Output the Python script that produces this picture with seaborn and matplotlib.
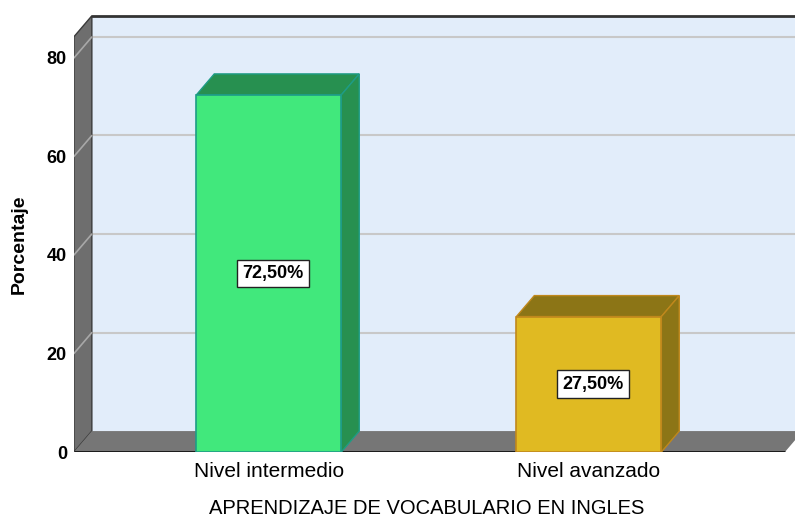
import matplotlib.pyplot as plt
import matplotlib.patches as mpatches
import seaborn as sns

# Chart data
categories = ['Nivel intermedio', 'Nivel avanzado']
percentages = [72.5, 27.5]
value_labels = ['72,50%', '27,50%']
y_ticks = [0, 20, 40, 60, 80]

# Colours (front face, shaded top/side, outline)
face_colors = ['#41E87C', '#E0BA22']
shade_colors = ['#279050', '#8C7516']
edge_colors = ['#1E9C86', '#C0881C']

sns.set_theme(style='white')
plt.rcParams['font.family'] = ['Liberation Sans', 'DejaVu Sans']
plt.rcParams['text.color'] = 'black'

fig = plt.figure(figsize=(7.95, 5.19), dpi=100)
ax = fig.add_axes([0.093, 0.129, 0.907, 0.85])

# 3D box geometry (data units)
bar_w = 0.453
xl, xr = -0.609, 1.6125
top = 84.3
dx, dy = 0.056, 4.26

# back panel, left wall and floor
ax.add_patch(mpatches.Polygon([(xl + dx, dy), (xr + dx + 1, dy), (xr + dx + 1, top + dy), (xl + dx, top + dy)],
                              closed=True, facecolor='#E2EDFA', edgecolor='none', zorder=0.1))
ax.add_patch(mpatches.Polygon([(xl, 0), (xl + dx, dy), (xl + dx, top + dy), (xl, top)],
                              closed=True, facecolor='#6E6E6E', edgecolor='#3a3a3a', lw=1, zorder=0.2))
ax.add_patch(mpatches.Polygon([(xl, 0), (xr, 0), (xr + dx, dy), (xl + dx, dy)],
                              closed=True, facecolor='#767676', edgecolor='none', zorder=0.2))
ax.plot([xl, xr], [0, 0], color='#111111', lw=2, zorder=0.3, solid_capstyle='butt')
ax.plot([xl + dx, xr + dx + 1], [top + dy, top + dy], color='#333333', lw=2, zorder=0.3)

# gridlines on wall and back panel
for t in y_ticks[1:]:
    ax.plot([xl, xl + dx], [t, t + dy], color='#A8A8A8', lw=1.2, zorder=0.3)
    ax.plot([xl + dx, xr + dx + 1], [t + dy, t + dy], color='#C8C8C8', lw=1.5, zorder=0.15)

# front faces of the bars
sns.barplot(x=categories, y=percentages, hue=categories, palette=face_colors,
            width=bar_w, saturation=1, legend=False, ax=ax)
for i, patch in enumerate(ax.patches[-len(categories):]):
    patch.set_edgecolor(edge_colors[i])
    patch.set_linewidth(1.2)
    patch.set_zorder(2)

# shaded top and side of the bars
for i, v in enumerate(percentages):
    x0, x1 = i - bar_w / 2, i + bar_w / 2
    ax.add_patch(mpatches.Polygon([(x0, v), (x1, v), (x1 + dx, v + dy), (x0 + dx, v + dy)],
                                  closed=True, facecolor=shade_colors[i], edgecolor=edge_colors[i],
                                  lw=1, zorder=1.5))
    ax.add_patch(mpatches.Polygon([(x1, 0), (x1 + dx, dy), (x1 + dx, v + dy), (x1, v)],
                                  closed=True, facecolor=shade_colors[i], edgecolor=edge_colors[i],
                                  lw=1, zorder=1.5))
    ax.text(i + 0.012, v / 2, value_labels[i], ha='center', va='center', fontsize=13, fontweight='bold',
            color='black',
            bbox=dict(boxstyle='square,pad=0.3', facecolor='white', edgecolor='#222222', lw=1), zorder=5)

ax.set_xlim(xl, xl + 721 / 320)
ax.set_ylim(0, 89.55)
ax.set_yticks(y_ticks)
ax.set_yticklabels([str(t) for t in y_ticks], fontweight='bold')
ax.tick_params(axis='y', length=0, pad=5, labelsize=13, colors='black')
ax.tick_params(axis='x', length=0, pad=7, labelsize=15, colors='black')
for s in ax.spines.values():
    s.set_visible(False)
ax.set_facecolor('none')

ax.set_ylabel('Porcentaje', fontsize=14, fontweight='bold', color='black')
ax.yaxis.set_label_coords(-0.064, 0.471)
ax.set_xlabel('APRENDIZAJE DE VOCABULARIO EN INGLES', fontsize=14.5, color='black')
ax.xaxis.set_label_coords(0.489, -0.106)

fig.savefig('out.png', dpi=100)
